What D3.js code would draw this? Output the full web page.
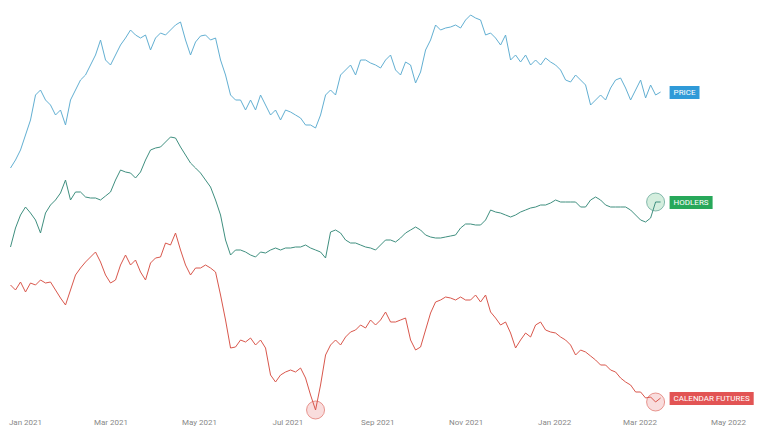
<!DOCTYPE html>
<html><head><meta charset="utf-8">
<script src="https://cdn.jsdelivr.net/npm/d3@7"></script>
<style>body{margin:0;background:#fff}svg{display:block}</style>
</head><body><svg id="c" width="768" height="444"></svg>
<script>
const startDate = new Date(2020, 11, 22);
const stepDays = 3.45;
const tickLabels = ["Jan 2021","Mar 2021","May 2021","Jul 2021","Sep 2021","Nov 2021","Jan 2022","Mar 2022","May 2022"];
// levels (arbitrary index units, higher = higher on chart)
const price = [168,160,150,135,120,95,90,100,105,115,110,125,100,90,80,75,65,55,40,60,65,55,45,38,30,35,38,35,50,38,33,35,30,25,22,40,55,42,36,35,40,38,60,75,95,100,100,110,100,110,95,105,115,110,120,110,112,115,118,125,125,128,115,95,90,95,75,70,65,75,60,60,63,65,68,60,55,70,75,62,65,83,72,50,40,25,30,28,27,25,28,20,15,18,20,35,33,38,45,35,60,55,62,55,65,60,65,58,62,65,70,80,82,75,80,85,105,100,95,100,88,80,78,88,100,90,80,98,85,95,92].map(v=>444-v);
const hodlers = [247,228,215,207,213,220,233,213,205,200,193,180,200,192,192,197,198,198,200,196,192,180,170,172,173,178,172,160,150,148,147,142,137,138,147,155,163,168,173,180,187,200,215,240,255,250,250,252,255,257,252,253,250,248,250,248,248,247,247,245,248,250,252,258,232,230,233,240,243,243,245,247,248,250,245,240,240,242,238,233,230,227,230,235,237,238,238,237,236,235,228,224,224,225,225,220,210,212,213,215,217,215,212,210,208,207,205,205,203,200,202,202,202,202,207,207,200,197,200,205,207,207,207,207,210,215,220,222,218,202,202].map(v=>444-v);
const futures = [285,290,282,292,283,285,280,283,282,290,298,305,290,275,268,262,257,252,262,275,283,280,265,255,265,260,272,280,263,258,257,243,245,233,250,265,275,268,268,265,268,272,295,320,348,347,340,342,338,345,340,348,375,382,375,372,370,372,368,378,395,410,385,355,345,340,345,337,332,330,325,328,320,325,320,312,322,322,320,318,340,350,347,330,313,302,300,297,298,300,297,300,300,295,302,295,312,318,325,322,333,348,340,333,337,325,322,330,332,333,337,340,345,355,350,352,356,360,365,365,370,372,378,382,385,392,392,398,397,402,398].map(v=>444-v);

const svg = d3.select("#c");
const x = d3.scaleTime().domain([new Date(2021,0,1), new Date(2022,4,1)]).range([25, 728]);
const y = d3.scaleLinear().domain([0,444]).range([444,0]);
const dateAt = i => new Date(startDate.getTime() + i*stepDays*86400000);

const ax = svg.append("g").attr("transform","translate(0,422)")
  .call(d3.axisBottom(x).ticks(d3.timeMonth.every(2)).tickSize(0).tickFormat((d,i)=>tickLabels[i]));
ax.select(".domain").remove();
ax.selectAll("text").attr("fill","#888").attr("font-family","Roboto, sans-serif").attr("font-size",8).attr("dy",0);

const series = [
  {name:"PRICE", data:price, color:"#62afd2", tag:"#2f9ad8", circles:[]},
  {name:"HODLERS", data:hodlers, color:"#3f8f7f", tag:"#27a85a", circles:[hodlers.length-2]},
  {name:"CALENDAR FUTURES", data:futures, color:"#d9574c", tag:"#e25454", circles:[61, futures.length-2]}
];
const line = d3.line().x((d,i)=>x(dateAt(i))).y(d=>y(d));
series.forEach(s=>{
  s.circles.forEach(ci=>{
    svg.append("circle").attr("cx",x(dateAt(ci))).attr("cy",y(s.data[ci])).attr("r",9)
      .attr("fill",s.tag).attr("fill-opacity",0.2).attr("stroke",s.color).attr("stroke-opacity",0.6);
  });
  svg.append("path").datum(s.data).attr("d",line).attr("fill","none").attr("stroke",s.color).attr("stroke-width",1);
  const last = s.data.length-1;
  const lx = x(dateAt(last)) + 9, ly = y(s.data[last]);
  const g = svg.append("g");
  const t = g.append("text").attr("x",lx+4).attr("y",ly+3).text(s.name)
    .attr("fill","#fff").attr("font-family","Roboto, sans-serif").attr("font-size",8);
  const w = t.node().getComputedTextLength();
  g.insert("rect","text").attr("x",lx).attr("y",ly-6).attr("width",w+8).attr("height",13).attr("fill",s.tag);
});
</script></body></html>
